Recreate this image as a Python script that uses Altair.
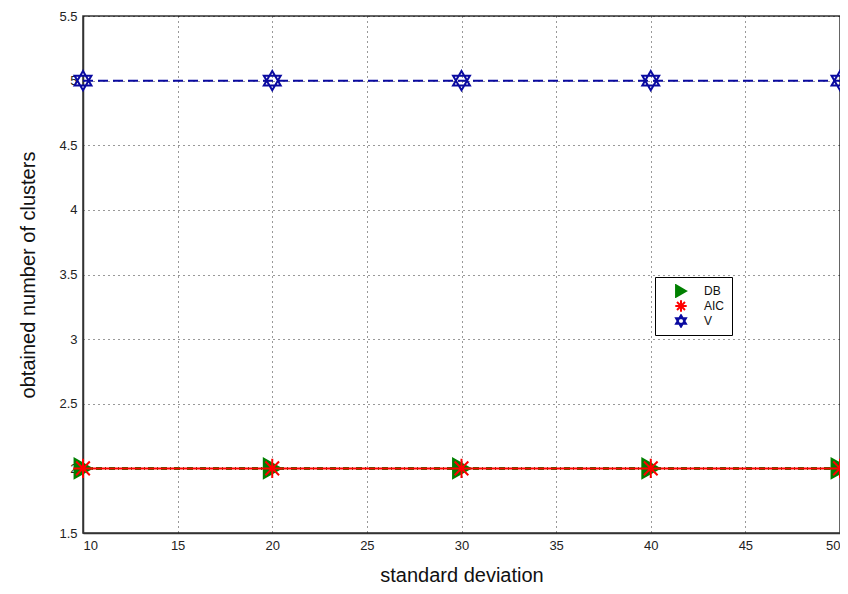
import altair as alt
import pandas as pd

std_dev = [10, 20, 30, 40, 50]
db_vals = [2, 2, 2, 2, 2]
aic_vals = [2, 2, 2, 2, 2]
v_vals = [5, 5, 5, 5, 5]
series_names = ["DB", "AIC", "V"]
y_ticks = [1.5, 2, 2.5, 3, 3.5, 4, 4.5, 5, 5.5]
x_ticks = [10, 15, 20, 25, 30, 35, 40, 45, 50]

rows = []
for name, vals in zip(series_names, [db_vals, aic_vals, v_vals]):
    for x, y in zip(std_dev, vals):
        rows.append({"std": x, "k": y, "series": name})
df = pd.DataFrame(rows)

FONT = "Liberation Sans"
hexagram = "M0,-1L0.866,0.5L-0.866,0.5Z M0,1L0.866,-0.5L-0.866,-0.5Z"
asterisk = "M0,-1L0,1M-1,0L1,0M-0.7,-0.7L0.7,0.7M-0.7,0.7L0.7,-0.7"

x_enc = alt.X("std:Q", scale=alt.Scale(domain=[10, 50], nice=False),
              axis=alt.Axis(values=x_ticks, title="standard deviation", grid=True,
                            labelPadding=6, titlePadding=13))
y_enc = alt.Y("k:Q", scale=alt.Scale(domain=[1.5, 5.5], nice=False, zero=False),
              axis=alt.Axis(values=y_ticks, format="~g", title="obtained number of clusters",
                            grid=True, labelPadding=6, titlePadding=20))

base = alt.Chart(df)

line_db = base.transform_filter(alt.datum.series == "DB").mark_line(
    color="#008000", strokeWidth=3, strokeDash=[6, 3, 1, 3]
).encode(x=x_enc, y=y_enc)
line_v = base.transform_filter(alt.datum.series == "V").mark_line(
    color="#0a0aa0", strokeWidth=2, strokeDash=[10, 5]
).encode(x=x_enc, y=y_enc)
line_aic = base.transform_filter(alt.datum.series == "AIC").mark_line(
    color="#ff0000", strokeWidth=2
).encode(x=x_enc, y=y_enc)

legend = alt.Legend(title=None, orient="none", legendX=572, legendY=261,
                    strokeColor="black", fillColor="white", padding=7,
                    labelFont=FONT, labelFontSize=12, labelColor="#111",
                    symbolSize=130, symbolStrokeWidth=2, rowPadding=1,
                    clipHeight=14, symbolOffset=12, labelOffset=16)

points = base.mark_point(filled=False, strokeWidth=2, size=380, opacity=1).encode(
    x=x_enc, y=y_enc,
    shape=alt.Shape("series:N", scale=alt.Scale(domain=series_names,
                    range=["triangle-right", asterisk, hexagram]), legend=legend),
    stroke=alt.Stroke("series:N", scale=alt.Scale(domain=series_names,
                      range=["#008000", "#ff0000", "#0a0aa0"]), legend=legend),
    fill=alt.Fill("series:N", scale=alt.Scale(domain=series_names,
                  range=["#008000", "transparent", "white"]), legend=legend),
)

chart = alt.layer(line_db, line_v, line_aic, points).properties(
    width=757, height=517,
    autosize=alt.AutoSizeParams(type="none"),
    padding={"left": 75, "top": 8, "right": 0, "bottom": 53},
).configure(
    font=FONT
).configure_view(
    stroke="#333", strokeWidth=1.5
).configure_axis(
    labelFont=FONT, labelFontSize=13, labelColor="#222",
    titleFont=FONT, titleFontSize=20, titleFontWeight="normal", titleColor="#111",
    domainColor="#333", domainWidth=1.5, tickColor="#333", tickSize=0,
    gridColor="#000", gridDash=[1, 4], gridOpacity=0.8, gridWidth=1,
)

chart.save("out.html", embed_options={"renderer": "svg", "actions": False})
